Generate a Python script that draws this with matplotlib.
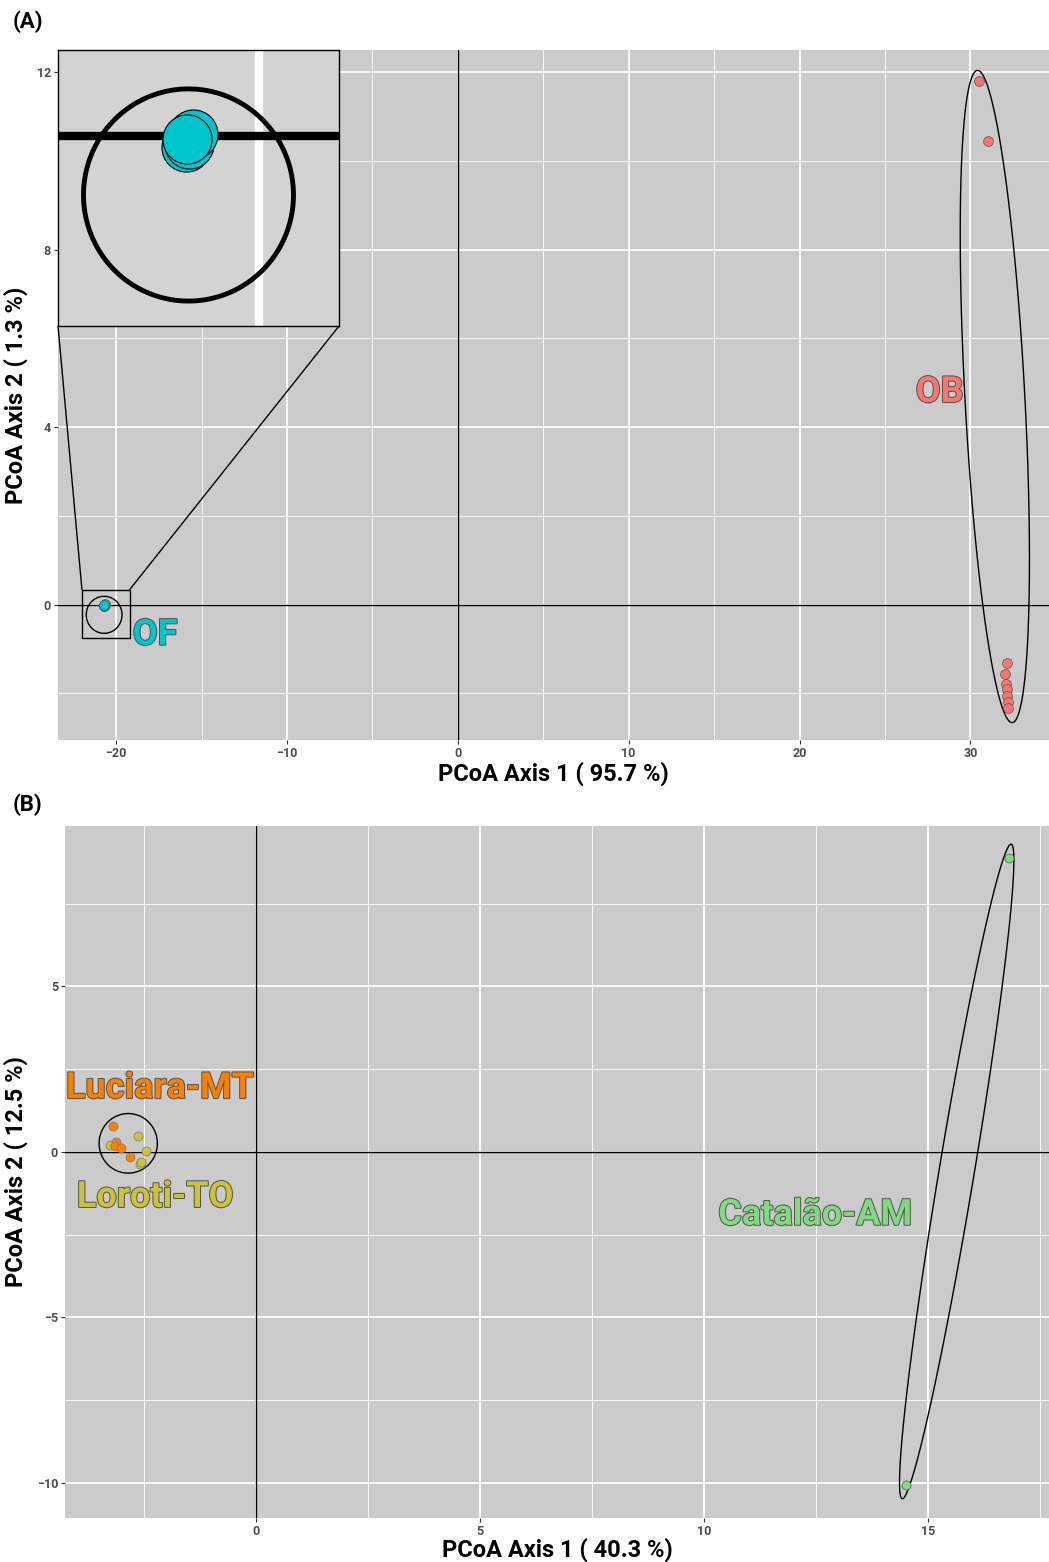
import numpy as np
import matplotlib
matplotlib.use("Agg")
import matplotlib.pyplot as plt
import matplotlib.patheffects as pe
from matplotlib.patches import Rectangle, ConnectionPatch, Polygon
from matplotlib.ticker import MultipleLocator

plt.rcParams['font.family'] = ['Roboto', 'DejaVu Sans']

# ---------------------------
# Panel A data (PCoA scores)
# ---------------------------
ob_x = [30.53, 31.03, 32.14, 32.05, 32.10, 32.12, 32.16, 32.18, 32.20]
ob_y = [11.81, 10.45, -1.32, -1.56, -1.79, -1.91, -2.05, -2.19, -2.33]
of_x = [-20.67, -20.70, -20.72, -20.69, -20.66, -20.71]
of_y = [0.00, -0.02, -0.04, -0.03, 0.01, -0.01]

# ellipses: centre, semi-diameter u, conjugate semi-diameter v
ob_ell = [(31.43, 4.69), (-1.02, 7.35), (1.75, 0.04)]
of_ell = [(-20.70, -0.23), (0.0, 0.417), (1.046, 0.0)]

# ---------------------------
# Panel B data
# ---------------------------
cat_x = [16.81, 14.51]
cat_y = [8.88, -10.06]
luc_x = [-3.18, -3.125, -3.14, -3.01, -2.80]
luc_y = [0.79, 0.31, 0.19, 0.11, -0.14]
lor_x = [-2.63, -3.26, -2.46, -2.59, -2.57]
lor_y = [0.48, 0.21, 0.03, -0.37, -0.31]

cat_ell = [(15.64, -0.59), (1.216, 9.89), (0.3875, -0.0873)]
lt_ell = [(-2.85, 0.26), (0.0, 0.90), (0.65, 0.0)]

col_ob = '#F8766D'
col_of = '#00C5CD'
col_cat = '#7EDC7E'
col_luc = '#FF8000'
col_lor = '#CDC338'
bg = '#cbcbcb'


def draw_ellipse(ax, ell, lw=1.0):
    (cx, cy), (ux, uy), (vx, vy) = ell
    t = np.linspace(0, 2 * np.pi, 400, endpoint=False)
    pts = np.column_stack([cx + ux * np.cos(t) + vx * np.sin(t),
                           cy + uy * np.cos(t) + vy * np.sin(t)])
    ax.add_patch(Polygon(pts, closed=True, fill=False, ec='black', lw=lw, zorder=3))


def style_axes(ax):
    ax.set_facecolor(bg)
    for s in ax.spines.values():
        s.set_visible(False)
    ax.set_axisbelow(True)
    ax.grid(which='major', color='white', lw=1.3)
    ax.grid(which='minor', color='white', lw=0.6)
    ax.tick_params(which='major', length=3, width=0.8, color='#333333',
                   labelcolor='#4d4d4d', labelsize=9, pad=2)
    ax.tick_params(which='minor', length=0)
    for lbl in ax.get_xticklabels() + ax.get_yticklabels():
        lbl.set_fontweight('bold')


def label(ax, x, y, txt, color, size=26):
    ax.text(x, y, txt, color=color, fontsize=size, fontweight='bold',
            ha='center', va='center', zorder=5,
            path_effects=[pe.Stroke(linewidth=1.4, foreground='#505050'), pe.Normal()])


fig = plt.figure(figsize=(10.49, 15.62), dpi=100)

# ---------------------------
# (A)
# ---------------------------
axA = fig.add_axes([0.0553, 0.5263, 0.9447, 0.4417])
axA.set_xlim(-23.4, 34.6)
axA.set_ylim(-3.05, 12.5)
axA.xaxis.set_major_locator(MultipleLocator(10))
axA.xaxis.set_minor_locator(MultipleLocator(5))
axA.yaxis.set_major_locator(MultipleLocator(4))
axA.yaxis.set_minor_locator(MultipleLocator(2))
axA.axhline(0, color='black', lw=1.0, zorder=2)
axA.axvline(0, color='black', lw=1.0, zorder=2)
axA.scatter(ob_x, ob_y, s=50, color=col_ob, edgecolor='#555555', lw=0.5, zorder=4)
axA.scatter(of_x, of_y, s=50, color=col_of, edgecolor='#555555', lw=0.5, zorder=4)
draw_ellipse(axA, ob_ell)
draw_ellipse(axA, of_ell)
label(axA, 28.2, 4.79, 'OB', col_ob)
label(axA, -17.72, -0.68, 'OF', col_of)
style_axes(axA)
axA.set_xlabel('PCoA Axis 1 ( 95.7 %)', fontsize=17, fontweight='bold', labelpad=1)
axA.set_ylabel('PCoA Axis 2 ( 1.3 %)', fontsize=17, fontweight='bold', labelpad=6)

# zoom box + inset
bx0, bx1, by0, by1 = -22.0, -19.2, -0.745, 0.34
axA.add_patch(Rectangle((bx0, by0), bx1 - bx0, by1 - by0, fill=False,
                        ec='black', lw=1.0, zorder=4))
ins = fig.add_axes([0.0553, 0.7913, 0.2679, 0.1767])
ins.set_xlim(bx0, bx1)
ins.set_ylim(by0, by1)
ins.set_facecolor('#d3d3d3')
ins.set_xticks([])
ins.set_yticks([])
for s in ins.spines.values():
    s.set_color('black')
    s.set_linewidth(1.0)
ins.axvline(-20, color='white', lw=6, zorder=1)
ins.axhline(0, color='black', lw=6, zorder=2)
ins.scatter(of_x, of_y, s=1250, color=col_of, edgecolor='black', lw=0.8, zorder=4)
draw_ellipse(ins, of_ell, lw=3.5)
for xa, xd in [(0, bx0), (1, bx1)]:
    con = ConnectionPatch(xyA=(xa, 0), coordsA=ins.transAxes,
                          xyB=(xd, by1), coordsB=axA.transData,
                          color='black', lw=1.0)
    fig.add_artist(con)

# ---------------------------
# (B)
# ---------------------------
axB = fig.add_axes([0.062, 0.0282, 0.938, 0.443])
axB.set_xlim(-4.26, 17.7)
axB.set_ylim(-11.06, 9.85)
axB.xaxis.set_major_locator(MultipleLocator(5))
axB.xaxis.set_minor_locator(MultipleLocator(2.5))
axB.yaxis.set_major_locator(MultipleLocator(5))
axB.yaxis.set_minor_locator(MultipleLocator(2.5))
axB.axhline(0, color='black', lw=1.0, zorder=2)
axB.axvline(0, color='black', lw=1.0, zorder=2)
axB.scatter(cat_x, cat_y, s=42, color=col_cat, edgecolor='#555555', lw=0.5, zorder=4)
axB.scatter(lor_x, lor_y, s=42, color=col_lor, edgecolor='#777777', lw=0.5, zorder=4)
axB.scatter(luc_x, luc_y, s=42, color=col_luc, edgecolor='#777777', lw=0.5, zorder=4)
draw_ellipse(axB, cat_ell)
draw_ellipse(axB, lt_ell)
label(axB, -2.14, 1.93, 'Luciara-MT', col_luc)
label(axB, -2.25, -1.36, 'Loroti-TO', col_lor)
label(axB, 12.48, -1.90, 'Catalão-AM', col_cat)
style_axes(axB)
axB.set_xlabel('PCoA Axis 1 ( 40.3 %)', fontsize=17, fontweight='bold', labelpad=0)
axB.set_ylabel('PCoA Axis 2 ( 12.5 %)', fontsize=17, fontweight='bold', labelpad=6)

fig.text(0.012, 0.986, '(A)', fontsize=16, fontweight='bold', va='center')
fig.text(0.012, 0.485, '(B)', fontsize=16, fontweight='bold', va='center')

fig.savefig('out.png', dpi=100)
